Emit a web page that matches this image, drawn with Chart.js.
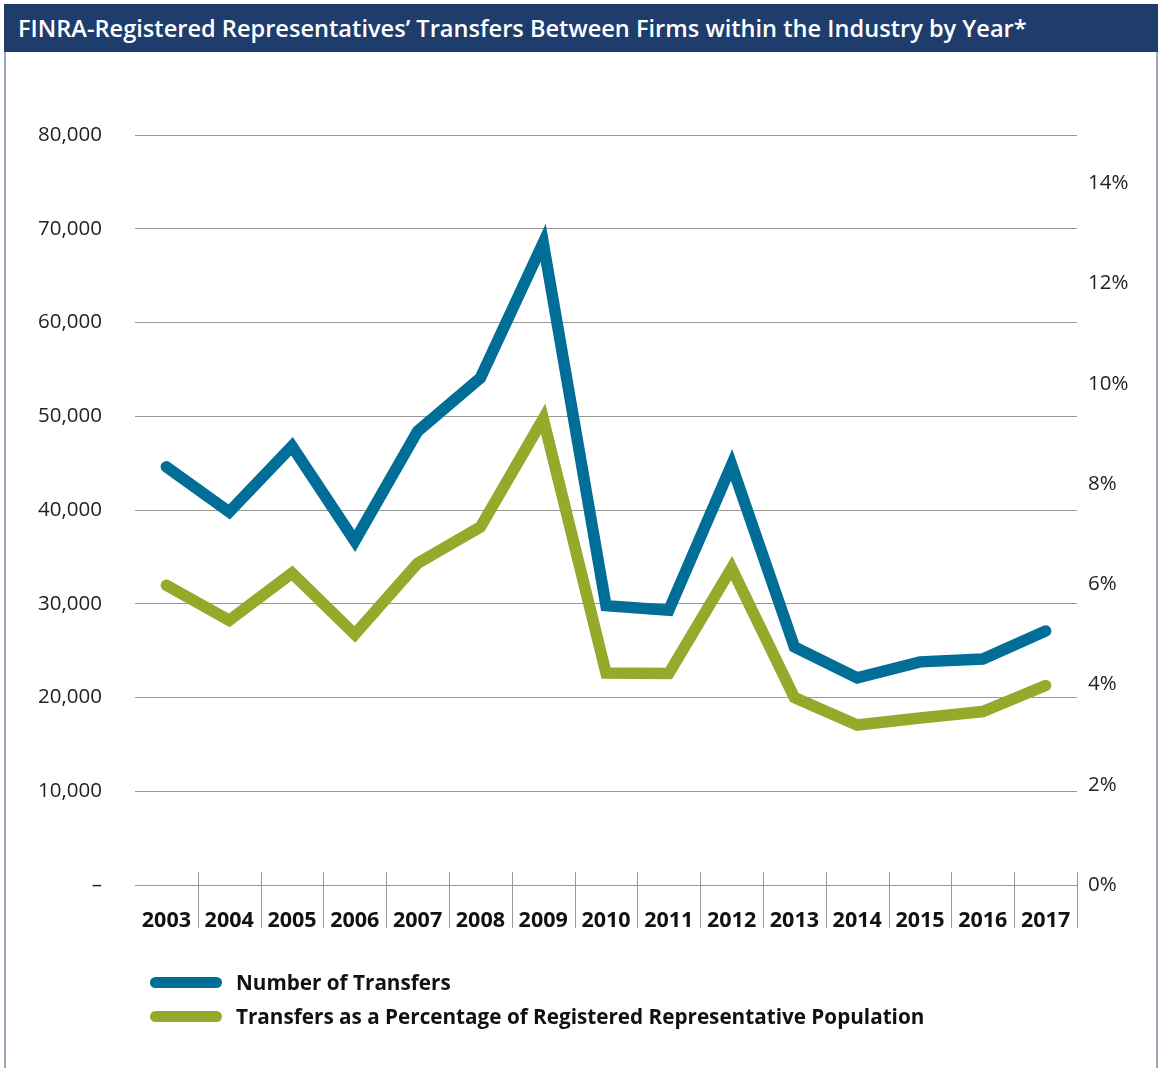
<!DOCTYPE html>
<html>
<head>
<meta charset="utf-8">
<script src="https://cdn.jsdelivr.net/npm/chart.js@4"></script>
<style>
    body { margin: 0; background: #fff; font-family: "Open Sans", sans-serif; }
    .page { position: relative; width: 1159px; height: 1068px; overflow: hidden; }
    .frame { position: absolute; left: 4px; top: 4px; width: 1154px; height: 1070px; border-left: 2px solid #9aa8bd; border-right: 2px solid #9aa8bd; box-sizing: border-box; }
    .title-bar { position: absolute; left: 4px; top: 4px; width: 1154px; height: 48px; background: #1e3d6d; color: #fff; font-size: 23.6px; font-weight: 600; line-height: 48px; padding-left: 14px; box-sizing: border-box; white-space: nowrap; }
    canvas { position: absolute; left: 0; top: 0; }
    .legend { position: absolute; left: 150px; top: 965px; }
    .legend-item { display: flex; align-items: center; height: 34px; }
    .swatch { width: 72px; height: 11px; border-radius: 6px; margin-right: 14px; }
    .legend-item span { font-size: 20.7px; font-weight: 700; color: #111; }
</style>
</head>
<body>
<div class="page">
    <canvas id="chart" width="1159" height="1068"></canvas>
    <div class="frame"></div>
    <div class="title-bar">FINRA-Registered Representatives’ Transfers Between Firms within the Industry by Year*</div>
    <div class="legend" id="legend"></div>
</div>
<script>
// Data
const years = ['2003', '2004', '2005', '2006', '2007', '2008', '2009', '2010', '2011', '2012', '2013', '2014', '2015', '2016', '2017'];
const transfers = [44600, 39800, 46800, 36700, 48400, 54100, 68500, 29800, 29300, 44800, 25400, 22100, 23800, 24100, 27100];
const transferPct = [5.98, 5.28, 6.22, 5.0, 6.42, 7.14, 9.3, 4.23, 4.22, 6.32, 3.74, 3.19, 3.33, 3.46, 3.98];

const seriesNames = ['Number of Transfers', 'Transfers as a Percentage of Registered Representative Population'];
const blue = '#006e96';
const green = '#95aa2a';
const gridColor = '#9b9893';

// Build legend
const legend = document.getElementById('legend');
[blue, green].forEach((color, i) => {
    const item = document.createElement('div');
    item.className = 'legend-item';
    item.innerHTML = `<div class="swatch" style="background:${color}"></div><span>${seriesNames[i]}</span>`;
    legend.appendChild(item);
});

// Vertical separators between year labels, extending a bit above the baseline
const separatorPlugin = {
    id: 'separators',
    afterDraw(chart) {
        const x = chart.scales.x;
        const ctx = chart.ctx;
        const half = (x.getPixelForValue(1) - x.getPixelForValue(0)) / 2;
        ctx.save();
        ctx.strokeStyle = gridColor;
        ctx.lineWidth = 1;
        years.forEach((y, i) => {
            const px = Math.round(x.getPixelForValue(i) + half) + 0.5;
            ctx.beginPath();
            ctx.moveTo(px, x.top - 13);
            ctx.lineTo(px, x.top + 43);
            ctx.stroke();
        });
        ctx.restore();
    }
};

const ctx = document.getElementById('chart').getContext('2d');
new Chart(ctx, {
    type: 'line',
    data: {
        labels: years,
        datasets: [{
            label: seriesNames[0],
            data: transfers,
            yAxisID: 'y',
            borderColor: blue,
            borderWidth: 11.5,
            borderCapStyle: 'round',
            borderJoinStyle: 'miter',
            pointRadius: 0,
            tension: 0,
            fill: false
        }, {
            label: seriesNames[1],
            data: transferPct,
            yAxisID: 'y2',
            borderColor: green,
            borderWidth: 11.5,
            borderCapStyle: 'round',
            borderJoinStyle: 'miter',
            pointRadius: 0,
            tension: 0,
            fill: false
        }]
    },
    options: {
        responsive: false,
        animation: false,
        layout: { padding: { top: 135, bottom: 123, left: 0, right: 0 } },
        plugins: {
            legend: { display: false },
            tooltip: { enabled: false }
        },
        scales: {
            x: {
                offset: true,
                grid: { display: false },
                border: { display: false },
                ticks: {
                    padding: 15,
                    color: '#111',
                    font: { family: 'Open Sans', size: 21.5, weight: 'bold' },
                    maxRotation: 0
                },
                afterFit(scale) { scale.height = 60; }
            },
            y: {
                position: 'left',
                min: 0,
                max: 80000,
                ticks: {
                    stepSize: 10000,
                    padding: 33,
                    color: '#222',
                    font: { family: 'Open Sans', size: 20.5 },
                    callback: v => v === 0 ? '–' : v.toLocaleString('en-US')
                },
                grid: { color: gridColor, lineWidth: 1, drawTicks: false },
                border: { display: false },
                afterFit(scale) { scale.width = 135; }
            },
            y2: {
                position: 'right',
                min: 0,
                max: 14.96,
                ticks: {
                    stepSize: 2,
                    padding: 11,
                    color: '#222',
                    font: { family: 'Open Sans', size: 20.5 },
                    callback: v => v + '%'
                },
                afterBuildTicks(scale) {
                    scale.ticks = scale.ticks.filter(t => t.value % 2 === 0);
                },
                grid: { display: false, drawTicks: false },
                border: { display: false },
                afterFit(scale) { scale.width = 82; }
            }
        }
    },
    plugins: [separatorPlugin]
});
</script>
</body>
</html>
